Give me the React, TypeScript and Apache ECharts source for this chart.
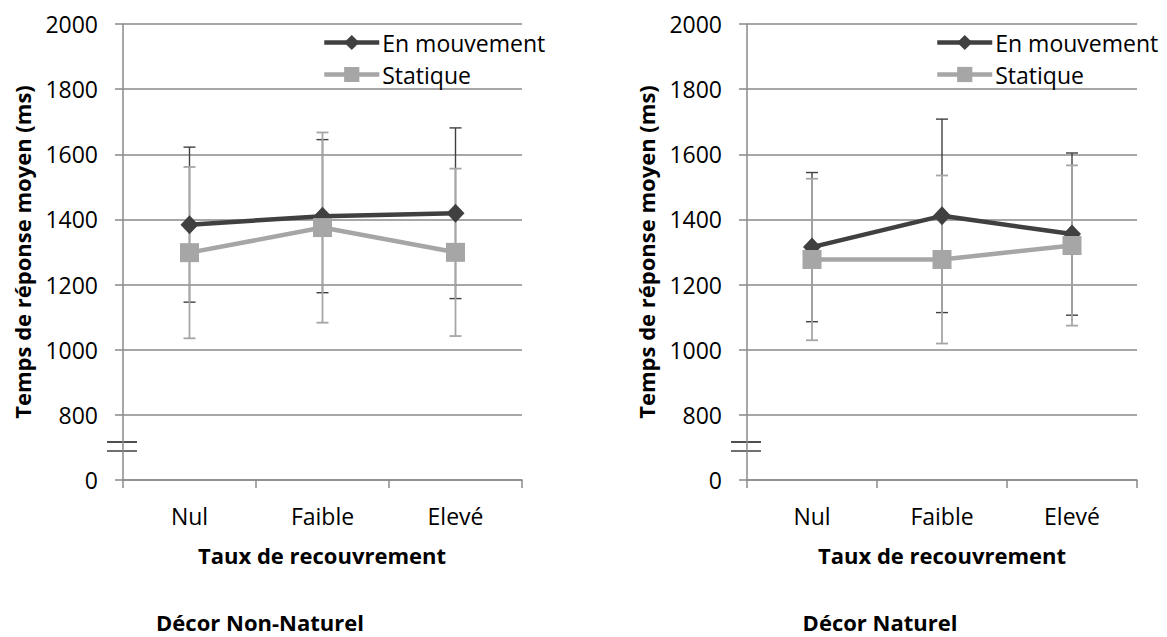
import React, { useEffect, useRef } from 'react';
import * as echarts from 'echarts';

const categories = ['Nul', 'Faible', 'Elevé'];
const seriesNames = ['En mouvement', 'Statique'];
// Axis break: the bottom of the value axis shows "0" in place of this value
const breakValue = 600;
const yMax = 2000;
const yStep = 200;

// Décor Non-Naturel
const nonNatMvtMean = [1384, 1410, 1419];
const nonNatMvtSd = [238, 235, 262];
const nonNatStatMean = [1298, 1375, 1299];
const nonNatStatSd = [263, 292, 257];
// Décor Naturel
const natMvtMean = [1315, 1411, 1355];
const natMvtSd = [229, 297, 249];
const natStatMean = [1277, 1277, 1320];
const natStatSd = [248, 258, 246];

const panelTitles = ['Décor Non-Naturel', 'Décor Naturel'];
const xTitle = 'Taux de recouvrement';
const yTitle = 'Temps de réponse moyen (ms)';

const FONT = "'Open Sans', 'Noto Sans', sans-serif";
const DARK = '#404040';
const LIGHT = '#a6a6a6';
const GRID = '#8a8a8a';

const errData = (mean: number[], sd: number[]) =>
  mean.map((m, i) => [i, m - sd[i], m + sd[i]]);

const errRender = (color: string, width: number) => (params: any, api: any) => {
  const i = api.value(0);
  const lo = api.coord([i, api.value(1)]);
  const hi = api.coord([i, api.value(2)]);
  const cap = 6;
  const style = { stroke: color, lineWidth: width, fill: 'none' };
  return {
    type: 'group',
    children: [
      { type: 'line', shape: { x1: lo[0], y1: lo[1], x2: hi[0], y2: hi[1] }, style },
      { type: 'line', shape: { x1: lo[0] - cap, y1: lo[1], x2: lo[0] + cap, y2: lo[1] }, style },
      { type: 'line', shape: { x1: hi[0] - cap, y1: hi[1], x2: hi[0] + cap, y2: hi[1] }, style },
    ],
  };
};

export default function App() {
  const ref = useRef<HTMLDivElement>(null);
  useEffect(() => {
    if (!ref.current) return;
    const chart = echarts.init(ref.current, undefined, { renderer: 'svg' });

    const grids = [
      { left: 123, top: 24, width: 399, height: 456 },
      { left: 747, top: 24, width: 390, height: 456 },
    ];

    const xAxes = grids.map((_, gi) => ({
      type: 'category',
      gridIndex: gi,
      data: categories,
      boundaryGap: true,
      axisLine: { lineStyle: { color: GRID, width: 1.5 } },
      axisTick: { show: true, length: 8, inside: false, lineStyle: { color: GRID, width: 1.5 } },
      axisLabel: { color: '#000', fontSize: 23, fontFamily: FONT, margin: 24, lineHeight: 23 },
      splitLine: { show: false },
    }));

    const yAxes = grids.map((_, gi) => ({
      type: 'value',
      gridIndex: gi,
      min: breakValue,
      max: yMax,
      interval: yStep,
      axisLine: { show: true, lineStyle: { color: GRID, width: 1.5 } },
      axisTick: { show: true, length: 8, lineStyle: { color: GRID, width: 1.5 } },
      axisLabel: {
        color: '#000',
        fontSize: 23,
        fontFamily: FONT,
        margin: 25,
        formatter: (v: number) => (v === breakValue ? '0' : String(v)),
      },
      splitLine: { show: true, lineStyle: { color: GRID, width: 1.5 } },
    }));

    const panels = [
      { mvtMean: nonNatMvtMean, mvtSd: nonNatMvtSd, statMean: nonNatStatMean, statSd: nonNatStatSd },
      { mvtMean: natMvtMean, mvtSd: natMvtSd, statMean: natStatMean, statSd: natStatSd },
    ];

    const series: any[] = [];
    panels.forEach((p, gi) => {
      series.push({
        type: 'custom',
        name: 'err-mvt-' + gi,
        xAxisIndex: gi,
        yAxisIndex: gi,
        z: 1,
        renderItem: errRender(DARK, 1.4),
        encode: { x: 0, y: [1, 2] },
        data: errData(p.mvtMean, p.mvtSd),
      });
      series.push({
        type: 'custom',
        name: 'err-stat-' + gi,
        xAxisIndex: gi,
        yAxisIndex: gi,
        z: 2,
        renderItem: errRender(LIGHT, 1.8),
        encode: { x: 0, y: [1, 2] },
        data: errData(p.statMean, p.statSd),
      });
      series.push({
        type: 'line',
        name: seriesNames[0],
        xAxisIndex: gi,
        yAxisIndex: gi,
        z: 3,
        data: p.mvtMean,
        symbol: 'diamond',
        symbolSize: [18, 19],
        color: DARK,
        itemStyle: { color: DARK },
        lineStyle: { color: DARK, width: 4.5 },
      });
      series.push({
        type: 'line',
        name: seriesNames[1],
        xAxisIndex: gi,
        yAxisIndex: gi,
        z: 4,
        data: p.statMean,
        symbol: 'rect',
        symbolSize: 19,
        color: LIGHT,
        itemStyle: { color: LIGHT },
        lineStyle: { color: LIGHT, width: 4.5 },
      });
    });

    const legendBase = {
      orient: 'vertical',
      top: 31,
      itemWidth: 55,
      itemHeight: 19,
      itemGap: 9,
      padding: 0,
      selectedMode: false,
      lineStyle: { width: 4.5 },
      textStyle: { fontSize: 23, fontFamily: FONT, color: '#000', lineHeight: 22, padding: [0, 0, 0, -2] },
      data: seriesNames,
    };

    const breakMark = (axisX: number) => [
      { type: 'line', shape: { x1: axisX - 16, y1: 442, x2: axisX + 14, y2: 442 }, style: { stroke: '#222', lineWidth: 1.6 } },
      { type: 'line', shape: { x1: axisX - 16, y1: 451, x2: axisX + 14, y2: 451 }, style: { stroke: '#333', lineWidth: 1.4 } },
    ];

    const titleText = (x: number, y: number, text: string, rotation = 0) => ({
      type: 'text',
      x,
      y,
      rotation,
      style: {
        text,
        fill: '#000',
        fontSize: 22,
        fontWeight: 'bold',
        fontFamily: FONT,
        align: 'center',
        verticalAlign: 'middle',
      },
    });

    chart.setOption({
      animation: false,
      grid: grids,
      xAxis: xAxes,
      yAxis: yAxes,
      legend: [
        { ...legendBase, left: 322 },
        { ...legendBase, left: 935 },
      ],
      series,
      graphic: [
        ...breakMark(123),
        ...breakMark(747),
        titleText(22, 252, yTitle, Math.PI / 2),
        titleText(646, 252, yTitle, Math.PI / 2),
        titleText(322, 555, xTitle),
        titleText(942, 555, xTitle),
        titleText(260, 622, panelTitles[0]),
        titleText(880, 622, panelTitles[1]),
      ],
    });

    return () => chart.dispose();
  }, []);

  return (
    <div
      ref={ref}
      style={{ position: 'absolute', left: 0, top: 0, width: 1167, height: 637, background: '#fff' }}
    />
  );
}
